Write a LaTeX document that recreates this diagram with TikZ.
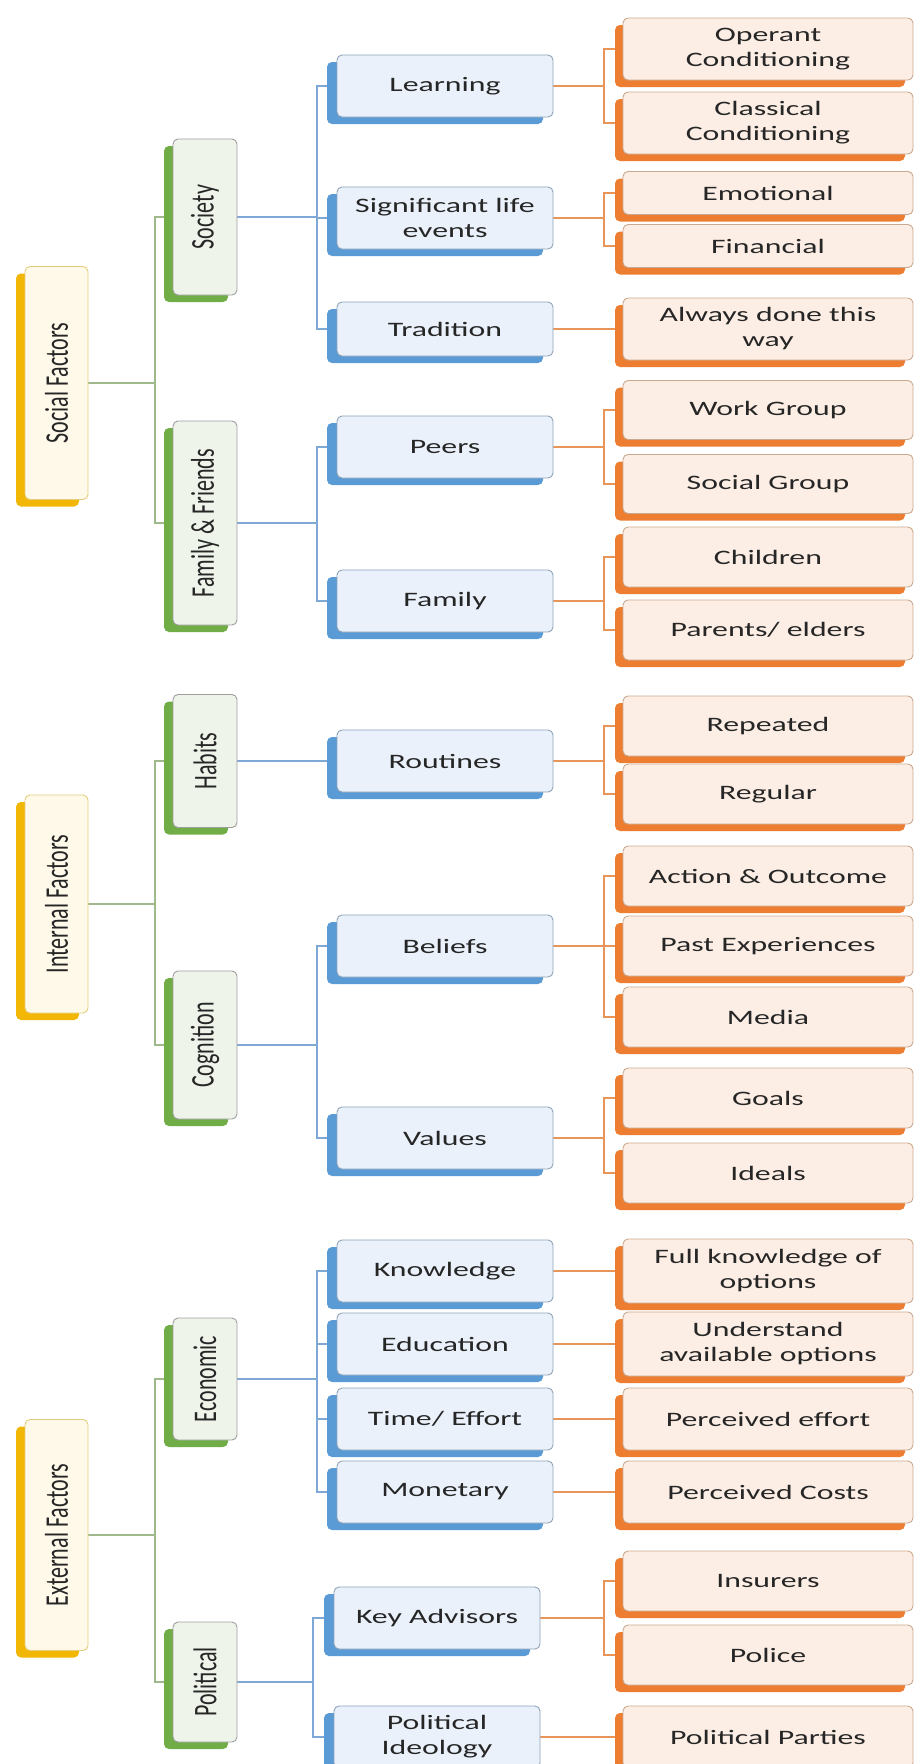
\documentclass[tikz,border=0pt]{standalone}
\usepackage{fontspec}
\usepackage{graphicx}
\setmainfont{Carlito}
\newfontfamily\widefont[FakeStretch=1.55]{Carlito}
\usetikzlibrary{shadows,backgrounds}

\definecolor{textgrey}{HTML}{262626}
\definecolor{rootshade}{HTML}{F2B705}
\definecolor{rootfill}{HTML}{FFF9E9}
\definecolor{rootline}{HTML}{E3CD7C}
\definecolor{catshade}{HTML}{70AD47}
\definecolor{catfill}{HTML}{EFF4EB}
\definecolor{catline}{HTML}{9E9E9E}
\definecolor{subshade}{HTML}{5B9BD5}
\definecolor{subfill}{HTML}{EAF1FA}
\definecolor{subline}{HTML}{8FA3B8}
\definecolor{leafshade}{HTML}{ED7D31}
\definecolor{leaffill}{HTML}{FCEEE5}
\definecolor{leafline}{HTML}{C9A88F}
\definecolor{rootconn}{HTML}{9FB88C}
\definecolor{catconn}{HTML}{7FA8D6}
\definecolor{subconn}{HTML}{E8955A}

% vertical label: rotated, thickened across the reading direction
\newcommand{\sidelabel}[1]{\rotatebox{90}{\scalebox{1}[1.5]{\rmfamily\fontsize{22}{26}\selectfont #1}}}

% elbow connector from a parent to its children through a trunk line
\newcommand{\fork}[4]{%
  \draw[#1] (#2.east) -- (#2.east -| #3);
  \foreach \c in {#4} {\draw[#1] (#2.east -| #3) -- (\c.west -| #3) -- (\c.west);}
}

\tikzset{
  tbox/.style={rounded corners=5pt, line width=0.9pt, align=center, inner sep=0pt,
    text=textgrey, font=\widefont\fontsize{20.5}{25}\selectfont},
  rootbox/.style={tbox, draw=rootline, fill=rootfill, minimum width=63pt,
    general shadow={shadow xshift=-9pt, shadow yshift=-7pt, fill=rootshade}},
  catbox/.style={tbox, draw=catline, fill=catfill, minimum width=64pt,
    general shadow={shadow xshift=-9pt, shadow yshift=-7pt, fill=catshade}},
  subbox/.style={tbox, draw=subline, fill=subfill, minimum width=216pt, minimum height=62pt,
    general shadow={shadow xshift=-10pt, shadow yshift=-7pt, fill=subshade}},
  leafbox/.style={tbox, draw=leafline, fill=leaffill, minimum width=290pt, minimum height=60pt,
    general shadow={shadow xshift=-8pt, shadow yshift=-7pt, fill=leafshade}},
  rootlink/.style={draw=rootconn, line width=1.1pt},
  catlink/.style={draw=catconn, line width=1.1pt},
  sublink/.style={draw=subconn, line width=1.1pt},
}

\begin{document}
\begin{tikzpicture}[x=1pt,y=-1pt]
\useasboundingbox (0,0) rectangle (918,1764);

% trunk positions of the three connector levels
\coordinate (rt) at (155,0);
\coordinate (ct) at (317,0);
\coordinate (pt) at (313,0);
\coordinate (st) at (604,0);

% top-level factors
\node[rootbox, minimum height=233pt] (social)   at (56.5,383)  {\sidelabel{Social Factors}};
\node[rootbox, minimum height=218pt] (internal) at (56.5,904)  {\sidelabel{Internal Factors}};
\node[rootbox, minimum height=231pt] (external) at (56.5,1535) {\sidelabel{External Factors}};

% categories
\node[catbox, minimum height=156pt] (society)    at (205,217)  {\sidelabel{Society}};
\node[catbox, minimum height=204pt] (famfriends) at (205,523)  {\sidelabel{Family \& Friends}};
\node[catbox, minimum height=133pt] (habits)     at (205,761)  {\sidelabel{Habits}};
\node[catbox, minimum height=148pt] (cognition)  at (205,1045) {\sidelabel{Cognition}};
\node[catbox, minimum height=122pt] (economic)   at (205,1379) {\sidelabel{Economic}};
\node[catbox, minimum height=120pt] (political)  at (205,1682) {\sidelabel{Political}};

% sub-categories
\node[subbox] (learning)   at (445,86)   {Learning};
\node[subbox] (lifeevents) at (445,218)  {Significant life\\events};
\node[subbox, minimum height=54pt] (tradition) at (445,329) {Tradition};
\node[subbox] (peers)      at (445,447)  {Peers};
\node[subbox] (family)     at (445,601)  {Family};
\node[subbox] (routines)   at (445,761)  {Routines};
\node[subbox] (beliefs)    at (445,946)  {Beliefs};
\node[subbox] (values)     at (445,1138) {Values};
\node[subbox] (knowledge)  at (445,1271) {Knowledge};
\node[subbox] (education)  at (445,1344) {Education};
\node[subbox] (timeeffort) at (445,1419) {Time/ Effort};
\node[subbox] (monetary)   at (445,1492) {Monetary};
\node[subbox, minimum width=206pt] (advisors) at (437,1618) {Key Advisors};
\node[subbox, minimum width=206pt] (ideology) at (437,1737) {Political\\Ideology};

% leaves
\node[leafbox, minimum height=62pt] (operant)   at (768,49)   {Operant\\Conditioning};
\node[leafbox, minimum height=62pt] (classical) at (768,123)  {Classical\\Conditioning};
\node[leafbox, minimum height=43pt] (emotional) at (768,193)  {Emotional};
\node[leafbox, minimum height=43pt] (financial) at (768,246)  {Financial};
\node[leafbox, minimum height=62pt] (always)    at (768,329)  {Always done this\\way};
\node[leafbox, minimum height=59pt] (workgroup) at (768,410)  {Work Group};
\node[leafbox, minimum height=59pt] (socgroup)  at (768,484)  {Social Group};
\node[leafbox] (children)  at (768,557)  {Children};
\node[leafbox] (parents)   at (768,630)  {Parents/ elders};
\node[leafbox] (repeated)  at (768,726)  {Repeated};
\node[leafbox] (regular)   at (768,794)  {Regular};
\node[leafbox] (action)    at (768,876)  {Action \& Outcome};
\node[leafbox] (past)      at (768,946)  {Past Experiences};
\node[leafbox] (media)     at (768,1017) {Media};
\node[leafbox] (goals)     at (768,1098) {Goals};
\node[leafbox] (ideals)    at (768,1173) {Ideals};
\node[leafbox, minimum height=64pt] (fullknow)   at (768,1271) {Full knowledge of\\options};
\node[leafbox, minimum height=64pt] (understand) at (768,1344) {Understand\\available options};
\node[leafbox, minimum height=62pt] (effort)     at (768,1419) {Perceived effort};
\node[leafbox, minimum height=62pt] (costs)      at (768,1492) {Perceived Costs};
\node[leafbox] (insurers)  at (768,1581) {Insurers};
\node[leafbox] (police)    at (768,1655) {Police};
\node[leafbox, minimum height=62pt] (parties) at (768,1737) {Political Parties};

\begin{scope}[on background layer]
  % factors to categories
  \fork{rootlink}{social}{rt}{society,famfriends}
  \fork{rootlink}{internal}{rt}{habits,cognition}
  \fork{rootlink}{external}{rt}{economic,political}
  % categories to sub-categories
  \fork{catlink}{society}{ct}{learning,lifeevents,tradition}
  \fork{catlink}{famfriends}{ct}{peers,family}
  \draw[catlink] (habits.east) -- (routines.west);
  \fork{catlink}{cognition}{ct}{beliefs,values}
  \fork{catlink}{economic}{ct}{knowledge,education,timeeffort,monetary}
  \fork{catlink}{political}{pt}{advisors,ideology}
  % sub-categories to leaves
  \fork{sublink}{learning}{st}{operant,classical}
  \fork{sublink}{lifeevents}{st}{emotional,financial}
  \draw[sublink] (tradition.east) -- (always.west);
  \fork{sublink}{peers}{st}{workgroup,socgroup}
  \fork{sublink}{family}{st}{children,parents}
  \fork{sublink}{routines}{st}{repeated,regular}
  \fork{sublink}{beliefs}{st}{action,past,media}
  \fork{sublink}{values}{st}{goals,ideals}
  \draw[sublink] (knowledge.east) -- (fullknow.west);
  \draw[sublink] (education.east) -- (understand.west);
  \draw[sublink] (timeeffort.east) -- (effort.west);
  \draw[sublink] (monetary.east) -- (costs.west);
  \fork{sublink}{advisors}{st}{insurers,police}
  \draw[sublink] (ideology.east) -- (parties.west);
\end{scope}
\end{tikzpicture}
\end{document}
